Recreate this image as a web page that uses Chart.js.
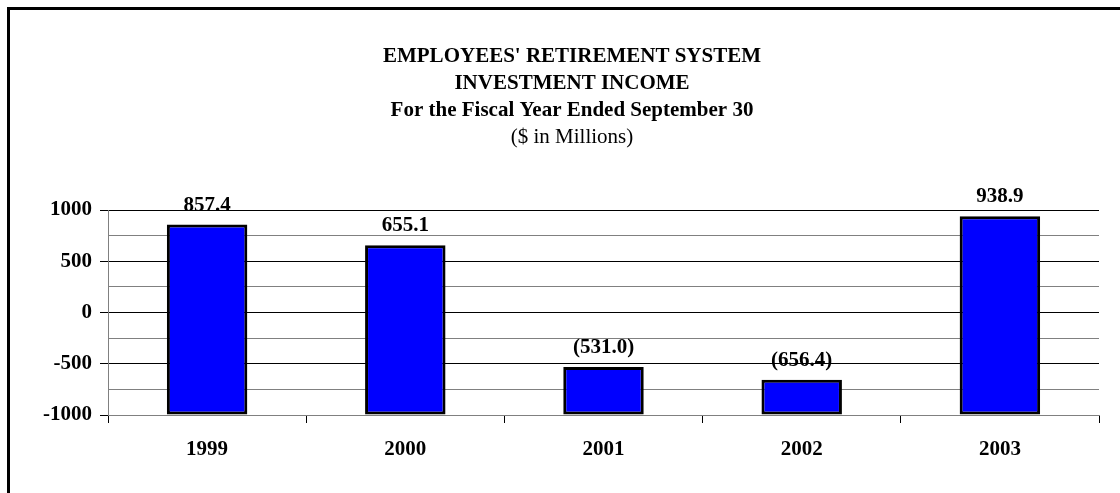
<!DOCTYPE html>
<html>
<head>
<meta charset="utf-8">
<title>Investment Income</title>
<script src="https://cdn.jsdelivr.net/npm/chart.js@4.4.1/dist/chart.umd.min.js"></script>
<style>
  html, body { margin: 0; padding: 0; background: #fff; }
  #wrap { position: relative; width: 1120px; height: 493px; }
</style>
</head>
<body>
<div id="wrap"><canvas id="income-chart" width="1120" height="493"></canvas></div>
<script>
// Fiscal years and investment income ($ millions)
const years = ["1999", "2000", "2001", "2002", "2003"];
const income = [857.4, 655.1, -531.0, -656.4, 938.9];

// Axis range and tick spacing
const yMin = -1000;
const yMax = 1000;
const yStep = 250;
const yLabelStep = 500;

const titleLines = [
    "EMPLOYEES' RETIREMENT SYSTEM",
    "INVESTMENT INCOME",
    "For the Fiscal Year Ended September 30",
    "($ in Millions)"
];

const serif = "'Liberation Serif', 'Times New Roman', serif";
Chart.defaults.font.family = serif;
Chart.defaults.color = "#000";

function fmt(v) {
    return v < 0 ? "(" + Math.abs(v).toFixed(1) + ")" : v.toFixed(1);
}

// Frame, heading and value labels
const decorations = {
    id: "decorations",
    beforeDraw(chart) {
        const c = chart.ctx;
        c.save();
        c.fillStyle = "#fff";
        c.fillRect(0, 0, chart.width, chart.height);
        c.fillStyle = "#000";
        c.fillRect(7, 7, chart.width - 7, 3);
        c.fillRect(7, 7, 3, chart.height - 7);
        c.restore();
    },
    afterDraw(chart) {
        const c = chart.ctx;
        c.save();
        c.fillStyle = "#000";
        c.textAlign = "center";
        c.textBaseline = "middle";
        const ys = [57, 84, 110.5, 137];
        titleLines.forEach(function (t, i) {
            c.font = (i < 3 ? "bold " : "") + "21px " + serif;
            c.fillText(t, 572, ys[i]);
        });

        c.font = "bold 21px " + serif;
        c.textBaseline = "alphabetic";
        chart.getDatasetMeta(0).data.forEach(function (bar, i) {
            c.fillText(fmt(income[i]), bar.x, bar.y - 14);
        });
        c.restore();
    }
};

var ctx = document.getElementById("income-chart").getContext("2d");
var myChart = new Chart(ctx, {
    type: "bar",
    data: {
        labels: years,
        datasets: [{
            data: income,
            base: yMin,
            backgroundColor: "#0000ff",
            borderColor: "#000",
            borderWidth: 3,
            borderSkipped: false,
            barPercentage: 0.406,
            categoryPercentage: 1
        }]
    },
    options: {
        responsive: false,
        animation: false,
        layout: { padding: { top: 210, right: 21, left: 0, bottom: 0 } },
        plugins: {
            legend: { display: false },
            title: { display: false },
            tooltip: { enabled: false }
        },
        scales: {
            x: {
                afterFit: function (scale) { scale.height = 78; },
                grid: {
                    offset: true,
                    drawOnChartArea: false,
                    drawTicks: true,
                    tickLength: 8,
                    tickColor: "#000",
                    tickWidth: 1
                },
                border: { color: "#808080", width: 1 },
                ticks: {
                    font: { size: 21, weight: "bold" },
                    color: "#000",
                    padding: 14
                }
            },
            y: {
                min: yMin,
                max: yMax,
                afterFit: function (scale) { scale.width = 108; },
                grid: {
                    color: function (c) {
                        return c.tick && c.tick.value % yLabelStep === 0 ? "#000" : "#808080";
                    },
                    tickColor: function (c) {
                        return c.tick && c.tick.value % yLabelStep === 0 ? "#000" : "rgba(0,0,0,0)";
                    },
                    tickLength: 8,
                    lineWidth: 1
                },
                border: { color: "#808080", width: 1 },
                ticks: {
                    stepSize: yStep,
                    autoSkip: false,
                    padding: 8,
                    font: { size: 21, weight: "bold" },
                    color: "#000",
                    callback: function (v) {
                        return v % yLabelStep === 0 ? String(v) : "";
                    }
                }
            }
        }
    },
    plugins: [decorations]
});
</script>
</body>
</html>
